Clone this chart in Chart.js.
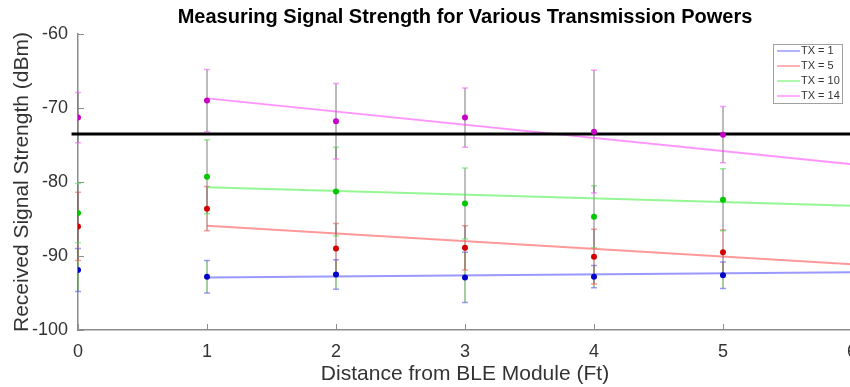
<!DOCTYPE html>
<html>
<head>
<meta charset="utf-8">
<script src="https://cdn.jsdelivr.net/npm/chart.js@4.4.0/dist/chart.umd.min.js"></script>
<style>
  html, body { margin: 0; padding: 0; background: #fff; overflow: hidden; width: 850px; height: 387px; }
  canvas { display: block; }
</style>
</head>
<body>
<!-- canvas slightly wider than the window so the x=6 edge gets cut like the original -->
<canvas id="chart" width="856" height="387"></canvas>
<script>
// distances where RSSI was measured (ft)
const distances = [0, 1, 2, 3, 4, 5];

// mean received signal strength (dBm) and error bar half-length
const tx1Mean = [-91.9, -92.8, -92.5, -92.9, -92.8, -92.6];
const tx1Err = [2.9, 2.2, 2.0, 3.4, 1.5, 1.8];
const tx5Mean = [-86.0, -83.6, -89.0, -88.9, -90.1, -89.5];
const tx5Err = [4.6, 3.0, 3.4, 3.0, 3.7, 3.0];
const tx10Mean = [-84.2, -79.3, -81.3, -82.9, -84.7, -82.4];
const tx10Err = [4.0, 5.0, 6.0, 4.8, 4.2, 4.2];
const tx14Mean = [-71.3, -69.0, -71.8, -71.3, -73.2, -73.6];
const tx14Err = [3.4, 4.2, 5.1, 4.0, 8.3, 3.8];

// linear fit end points
const fitX = [1, 6];
const tx1Fit = [-92.9, -92.2];
const tx5Fit = [-85.9, -91.1];
const tx10Fit = [-80.7, -83.2];
const tx14Fit = [-68.7, -77.6];

// threshold line
const thresholdX = [-0.05, 6.1];
const thresholdY = -73.5;

const seriesLabels = ['TX = 1', 'TX = 5', 'TX = 10', 'TX = 14'];
const xTicks = [0, 1, 2, 3, 4, 5, 6];
const yTicks = [-100, -90, -80, -70, -60];

const FONT = "'Liberation Sans Narrow', 'Liberation Sans', Arial, sans-serif";

const series = [
  { mean: tx1Mean, err: tx1Err, fit: tx1Fit, point: '#0000c8', line: 'rgba(70,70,255,0.55)', bar: 'rgba(70,150,50,0.65)', cap: 'rgba(90,90,255,0.6)' },
  { mean: tx5Mean, err: tx5Err, fit: tx5Fit, point: '#d40000', line: 'rgba(255,70,70,0.55)', bar: 'rgba(150,70,70,0.6)', cap: 'rgba(255,90,90,0.6)' },
  { mean: tx10Mean, err: tx10Err, fit: tx10Fit, point: '#00c800', line: 'rgba(60,240,60,0.55)', bar: 'rgba(110,110,110,0.6)', cap: 'rgba(80,230,80,0.6)' },
  { mean: tx14Mean, err: tx14Err, fit: tx14Fit, point: '#c800c8', line: 'rgba(255,60,255,0.55)', bar: 'rgba(115,115,115,0.65)', cap: 'rgba(255,90,255,0.6)' }
];

function toPoints(xs, ys) {
  return xs.map((x, i) => ({ x: x, y: ys[i] }));
}

const datasets = [];
series.forEach((s, i) => {
  datasets.push({
    label: seriesLabels[i],
    isFit: true,
    data: toPoints(fitX, s.fit),
    showLine: true,
    borderColor: s.line,
    backgroundColor: s.line,
    borderWidth: 2,
    pointRadius: 0,
    order: 2
  });
});
series.forEach((s, i) => {
  datasets.push({
    label: seriesLabels[i] + ' data',
    data: toPoints(distances, s.mean),
    showLine: false,
    pointRadius: 3,
    pointBackgroundColor: s.point,
    pointBorderColor: s.point,
    pointBorderWidth: 0,
    order: 0
  });
});
datasets.push({
  label: 'threshold',
  data: toPoints(thresholdX, [thresholdY, thresholdY]),
  showLine: true,
  borderColor: '#000',
  borderWidth: 3,
  pointRadius: 0,
  clip: false,
  order: 1
});

const errorBars = {
  id: 'errorBars',
  beforeDatasetsDraw(chart) {
    const { ctx } = chart;
    const x = chart.scales.x;
    const y = chart.scales.y;
    ctx.save();
    series.forEach((s) => {
      distances.forEach((d, i) => {
        const px = x.getPixelForValue(d);
        const top = y.getPixelForValue(s.mean[i] + s.err[i]);
        const bottom = y.getPixelForValue(s.mean[i] - s.err[i]);
        ctx.strokeStyle = s.bar;
        ctx.lineWidth = 1.5;
        ctx.beginPath();
        ctx.moveTo(px, top);
        ctx.lineTo(px, bottom);
        ctx.stroke();
        ctx.strokeStyle = s.cap;
        ctx.lineWidth = 1.5;
        ctx.beginPath();
        ctx.moveTo(px - 3, top);
        ctx.lineTo(px + 3, top);
        ctx.moveTo(px - 3, bottom);
        ctx.lineTo(px + 3, bottom);
        ctx.stroke();
      });
    });
    ctx.restore();
  }
};

// matlab style ticks pointing into the plot
const innerTicks = {
  id: 'innerTicks',
  afterDraw(chart) {
    const { ctx, chartArea } = chart;
    const x = chart.scales.x;
    const y = chart.scales.y;
    ctx.save();
    ctx.strokeStyle = '#8c8c8c';
    ctx.lineWidth = 1;
    ctx.beginPath();
    xTicks.forEach((t) => {
      const px = Math.round(x.getPixelForValue(t)) + 0.5;
      ctx.moveTo(px, chartArea.bottom);
      ctx.lineTo(px, chartArea.bottom - 6);
    });
    yTicks.forEach((t) => {
      const py = Math.round(y.getPixelForValue(t)) + 0.5;
      ctx.moveTo(chartArea.left, py);
      ctx.lineTo(chartArea.left + 6, py);
    });
    ctx.stroke();
    ctx.restore();
  }
};

const boxLegend = {
  id: 'boxLegend',
  afterDraw(chart) {
    const { ctx } = chart;
    const fits = chart.data.datasets.filter((d) => d.isFit);
    const left = 773, top = 44, w = 69, h = 59;
    ctx.save();
    ctx.fillStyle = '#fff';
    ctx.fillRect(left, top, w, h);
    ctx.strokeStyle = '#a0a0a0';
    ctx.lineWidth = 1;
    ctx.strokeRect(left + 0.5, top + 0.5, w, h);
    ctx.font = '11px ' + FONT;
    ctx.textBaseline = 'middle';
    ctx.fillStyle = '#333';
    fits.forEach((d, i) => {
      const ry = top + 7 + i * 15;
      ctx.strokeStyle = d.borderColor;
      ctx.lineWidth = 1.5;
      ctx.beginPath();
      ctx.moveTo(left + 4, ry);
      ctx.lineTo(left + 27, ry);
      ctx.stroke();
      ctx.fillText(d.label, left + 28, ry);
    });
    ctx.restore();
  }
};

// centre the title over the axes like the original
const titleOverAxes = {
  id: 'titleOverAxes',
  afterLayout(chart) {
    if (chart.titleBlock) {
      chart.titleBlock.left = chart.chartArea.left;
      chart.titleBlock.right = chart.chartArea.right;
    }
  }
};

new Chart(document.getElementById('chart'), {
  type: 'scatter',
  data: { datasets: datasets },
  plugins: [errorBars, innerTicks, boxLegend, titleOverAxes],
  options: {
    responsive: false,
    animation: false,
    layout: { padding: 0 },
    plugins: {
      legend: { display: false },
      tooltip: { enabled: false },
      title: {
        display: true,
        text: 'Measuring Signal Strength for Various Transmission Powers',
        color: '#000',
        font: { family: FONT, size: 20, weight: 'bold' },
        padding: { top: 5, bottom: 5 }
      }
    },
    scales: {
      x: {
        type: 'linear',
        min: 0,
        max: 6,
        afterBuildTicks: (scale) => { scale.ticks = xTicks.map((v) => ({ value: v })); },
        afterFit: (scale) => { scale.height = 57; scale.paddingLeft = 0; scale.paddingRight = 0; },
        ticks: { color: '#333', font: { family: FONT, size: 18 }, padding: 11 },
        grid: { display: true, drawOnChartArea: false, drawTicks: false },
        border: { color: '#8c8c8c', width: 1.5 },
        title: {
          display: true,
          text: 'Distance from BLE Module (Ft)',
          color: '#333',
          font: { family: FONT, size: 21 },
          padding: { top: 0, bottom: 0 }
        }
      },
      y: {
        type: 'linear',
        min: -100,
        max: -60,
        afterBuildTicks: (scale) => { scale.ticks = yTicks.map((v) => ({ value: v })); },
        afterFit: (scale) => { scale.width = 78; scale.paddingTop = 0; scale.paddingBottom = 0; },
        ticks: { color: '#333', font: { family: FONT, size: 18 }, padding: 10 },
        grid: { display: true, drawOnChartArea: false, drawTicks: false },
        border: { color: '#8c8c8c', width: 1.5 },
        title: {
          display: true,
          text: 'Received Signal Strength (dBm)',
          color: '#333',
          font: { family: FONT, size: 21 },
          padding: { top: 9.5, bottom: 0 }
        }
      }
    }
  }
});
</script>
</body>
</html>
